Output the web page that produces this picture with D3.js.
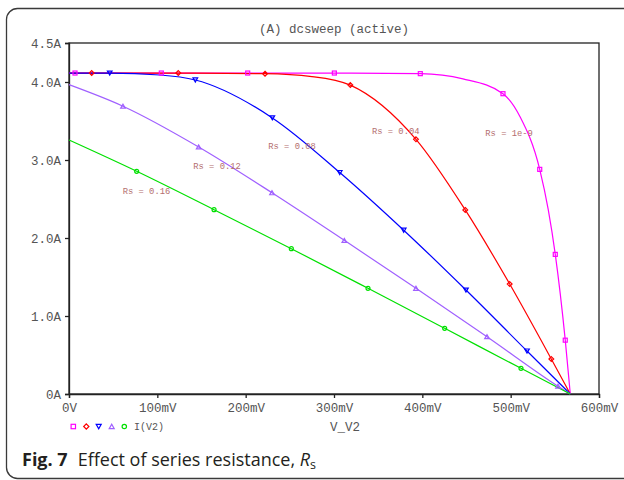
<!DOCTYPE html>
<html><head><meta charset="utf-8">
<script src="https://cdn.jsdelivr.net/npm/d3@7"></script>
<style>html,body{margin:0;padding:0;background:#fff;}svg{display:block;}</style>
</head><body><svg id="c" width="624" height="480"></svg>
<script>
// ---- data ----
const seriesNames = ["Rs = 1e-9", "Rs = 0.04", "Rs = 0.08", "Rs = 0.12", "Rs = 0.16"];
const xTicks = [0, 100, 200, 300, 400, 500, 600];
const xTickLabels = ["0V", "100mV", "200mV", "300mV", "400mV", "500mV", "600mV"];
const yTicks = [0, 1, 2, 3, 4, 4.5];
const yTickLabels = ["0A", "1.0A", "2.0A", "3.0A", "4.0A", "4.5A"];

// curve points [mV, A]
const curve1e9 = [[0,4.115],[104.5,4.115],[202.3,4.115],[300.4,4.115],[397.7,4.107],[446,4.04],[491.3,3.85],[510.6,3.555],[532.9,2.88],[542.6,2.36],[550.5,1.79],[561.8,0.69],[567.5,0]];
const curve004 = [[0,4.115],[123.7,4.115],[221.9,4.107],[275,4.07],[318.5,3.96],[392.8,3.265],[448.6,2.36],[498.9,1.41],[546,0.449],[567.5,0]];
const curve008 = [[0,4.115],[46.1,4.115],[103,4.09],[143,4.026],[230.2,3.54],[306.5,2.84],[378.9,2.10],[449.4,1.333],[518.5,0.551],[567.5,0]];
const curve012 = [[0,3.966],[61.1,3.69],[146.8,3.167],[229.8,2.58],[311.7,1.97],[392.8,1.355],[473.2,0.735],[553.6,0.10],[567.5,0]];
const curve016 = [[0,3.256],[76.6,2.855],[164.2,2.363],[251.7,1.863],[338.5,1.355],[425.3,0.842],[511.7,0.329],[567.5,0]];

// marker points [mV, A]
const markers1e9 = [[6.8,4.115],[104.5,4.115],[202.3,4.115],[300.4,4.115],[397.7,4.107],[491.3,3.85],[532.9,2.88],[550.5,1.79],[561.8,0.69]];
const markers004 = [[25.7,4.115],[123.7,4.115],[221.9,4.107],[318.5,3.96],[392.8,3.265],[448.6,2.36],[498.9,1.41],[546,0.449]];
const markers008 = [[46.1,4.115],[143,4.026],[230.2,3.54],[306.5,2.84],[378.9,2.10],[449.4,1.333],[518.5,0.551]];
const markers012 = [[61.1,3.69],[146.8,3.167],[229.8,2.58],[311.7,1.97],[392.8,1.355],[473.2,0.735],[553.6,0.10]];
const markers016 = [[76.6,2.855],[164.2,2.363],[251.7,1.863],[338.5,1.355],[425.3,0.842],[511.7,0.329]];

// label anchor [mV, A]
const labelPos = [[471.3,3.308],[343,3.333],[225.6,3.147],[140.7,2.885],[60.8,2.564]];

const titleText = "(A) dcsweep (active)";
const xAxisTitle = "V_V2";
const legendText = "I(V2)";

// ---- layout ----
const colors = ["#ff00ff", "#ff0000", "#0000ff", "#a060ff", "#00e000"];
const symbols = ["square", "diamond", "tdown", "tup", "circle"];
const curves = [curve1e9, curve004, curve008, curve012, curve016];
const markers = [markers1e9, markers004, markers008, markers012, markers016];

const svg = d3.select("#c");
const L = 69, R = 599, T = 43, B = 394;
const x = d3.scaleLinear().domain([0, 600]).range([L, R]);
const y = d3.scaleLinear().domain([0, 4.5]).range([B, T]);
const mono = "'Liberation Mono', 'Courier New', monospace";

// outer rounded frame
svg.append("rect").attr("x", 6.5).attr("y", 8.5).attr("width", 630).attr("height", 470)
  .attr("rx", 11).attr("fill", "none").attr("stroke", "#3a3a3a").attr("stroke-width", 1.3);

// title
svg.append("text").attr("x", (L + R) / 2).attr("y", 33).attr("text-anchor", "middle")
  .attr("font-family", mono).attr("font-size", 12.5).attr("fill", "#555").text(titleText);

// plot box
svg.append("rect").attr("x", L).attr("y", T).attr("width", R - L).attr("height", B - T)
  .attr("fill", "none").attr("stroke", "#222").attr("stroke-width", 1.3);

// axes
const xAxis = d3.axisBottom(x).tickValues(xTicks).tickSize(4).tickPadding(5)
  .tickFormat((d, i) => xTickLabels[i]);
const gx = svg.append("g").attr("transform", `translate(0,${B})`).call(xAxis);
const yAxis = d3.axisLeft(y).tickValues(yTicks).tickSize(4).tickPadding(4)
  .tickFormat((d, i) => yTickLabels[i]);
const gy = svg.append("g").attr("transform", `translate(${L},0)`).call(yAxis);
[gx, gy].forEach(g => {
  g.select(".domain").attr("stroke", "#222").attr("stroke-width", 1.3);
  g.selectAll(".tick line").attr("stroke", "#222").attr("stroke-width", 1.3);
  g.selectAll(".tick text").attr("font-family", mono).attr("font-size", 12.5).attr("fill", "#555");
});
gy.selectAll(".tick text").attr("dy", "0.35em");

// x axis title
svg.append("text").attr("x", 345).attr("y", 431).attr("text-anchor", "middle")
  .attr("font-family", mono).attr("font-size", 12.5).attr("fill", "#555").text(xAxisTitle);

// curves
const line = d3.line().x(d => x(d[0])).y(d => y(d[1])).curve(d3.curveMonotoneX);
const plot = svg.append("g");
curves.forEach((c, i) => {
  plot.append("path").datum(c).attr("d", line).attr("fill", "none")
    .attr("stroke", colors[i]).attr("stroke-width", 1.2);
});

function drawSymbol(g, type, cx, cy, color, s, sw) {
  let el;
  if (type === "square") {
    el = g.append("rect").attr("x", cx - s).attr("y", cy - s).attr("width", 2 * s).attr("height", 2 * s);
  } else if (type === "circle") {
    el = g.append("circle").attr("cx", cx).attr("cy", cy).attr("r", s);
  } else if (type === "diamond") {
    el = g.append("path").attr("d", `M${cx},${cy - s - 0.4}L${cx + s + 0.4},${cy}L${cx},${cy + s + 0.4}L${cx - s - 0.4},${cy}Z`);
  } else if (type === "tdown") {
    el = g.append("path").attr("d", `M${cx - s - 0.3},${cy - s}L${cx + s + 0.3},${cy - s}L${cx},${cy + s}Z`);
  } else {
    el = g.append("path").attr("d", `M${cx - s - 0.3},${cy + s}L${cx + s + 0.3},${cy + s}L${cx},${cy - s}Z`);
  }
  el.attr("fill", "none").attr("stroke", color).attr("stroke-width", sw);
  return el;
}

markers.forEach((m, i) => {
  m.forEach(p => drawSymbol(plot, symbols[i], x(p[0]), y(p[1]), colors[i], 2, 1.2));
});

// curve labels
labelPos.forEach((p, i) => {
  svg.append("text").attr("x", x(p[0])).attr("y", y(p[1]))
    .attr("font-family", mono).attr("font-size", 8.8).attr("fill", "#b46e6e")
    .text(seriesNames[i]);
});

// legend
const legX = [73.3, 86.3, 98.7, 111.7, 124.3];
symbols.forEach((s, i) => drawSymbol(svg, s, legX[i], 426.5, colors[i], 2.2, 1.2));
svg.append("text").attr("x", 134).attr("y", 430).attr("font-family", mono)
  .attr("font-size", 10).attr("fill", "#555").text(legendText);

// caption
const cap = svg.append("text").attr("x", 22).attr("y", 465.5)
  .attr("font-family", "'Open Sans', 'Noto Sans', sans-serif").attr("font-size", 18).attr("fill", "#231f20");
cap.append("tspan").attr("font-weight", "bold").text("Fig. 7");
cap.append("tspan").attr("dx", 10).text("Effect of series resistance, ");
cap.append("tspan").attr("font-style", "italic").text("R");
cap.append("tspan").attr("font-size", 12.5).attr("dy", 3).text("s");
</script>
</body></html>
